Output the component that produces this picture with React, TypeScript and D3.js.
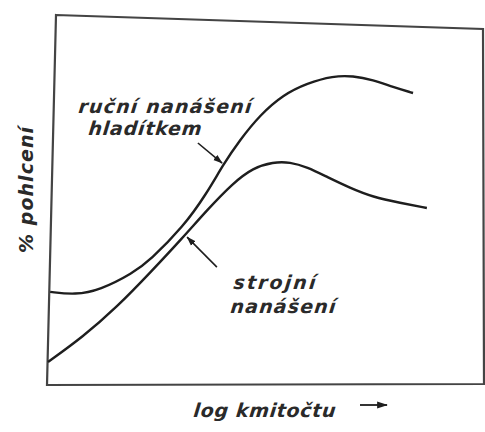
import * as React from 'react';
import * as d3 from 'd3';

// x: log of frequency (relative units), y: % absorption (relative units)
const handX = [0.5, 6.3, 12.0, 19.7, 23.6, 31.3, 36.8, 40.5, 44.4, 49.1, 54.4, 60.0, 66.0, 70.6, 75.2, 79.9, 84.5];
const handY = [25.5, 24.7, 26.0, 30.7, 34.2, 43.3, 52.6, 60.3, 67.1, 74.0, 79.5, 82.7, 84.7, 84.7, 83.6, 81.6, 80.0];

const machineX = [0, 8.1, 16.0, 23.6, 31.3, 36.8, 42.8, 47.5, 52.1, 56.0, 60.0, 64.6, 69.9, 75.2, 81.5, 87.7];
const machineY = [6.3, 13.2, 21.4, 30.7, 40.5, 47.9, 55.3, 59.5, 61.1, 61.1, 59.7, 57.0, 54.0, 51.5, 49.9, 48.5];

const handLabel = ['ruční nanášení', 'hladítkem'];
const machineLabel = ['strojní', 'nanášení'];
const yTitle = '% pohlcení';
const xTitle = 'log kmitočtu';

const W = 485;
const H = 432;
const plot = { left: 48, right: 480, top: 20, bottom: 385 };

const x = d3.scaleLinear().domain([0, 100]).range([plot.left, plot.right]);
const y = d3.scaleLinear().domain([0, 100]).range([plot.bottom, plot.top]);

const line = d3
  .line<[number, number]>()
  .x((d) => x(d[0]))
  .y((d) => y(d[1]))
  .curve(d3.curveBasis);

const ink = '#1e1e1e';
const font = '"DejaVu Sans", sans-serif';
const slant = 0.105; // extra skew on top of the oblique face

export default function App() {
  const hand = line(handX.map((v, i) => [v, handY[i]] as [number, number])) || '';
  const machine = line(machineX.map((v, i) => [v, machineY[i]] as [number, number])) || '';

  // the scanned frame is slightly out of square
  const frame = [
    [plot.left + 8, plot.top - 5],
    [plot.right + 3, plot.top + 9],
    [plot.right + 4, plot.bottom - 1],
    [plot.left - 1, plot.bottom],
  ];
  const framePath = 'M' + frame.map((p) => p.join(',')).join('L') + 'Z';

  const textStyle: React.CSSProperties = {
    fontFamily: font,
    fontStyle: 'oblique',
    fontWeight: 'bold',
    fontSize: 19,
    fill: '#2a2a2a',
  };

  return (
    <div style={{ position: 'absolute', left: 0, top: 0, background: '#fff' }}>
      <svg width={W} height={H} viewBox={`0 0 ${W} ${H}`}>
        <defs>
          <marker id="head" viewBox="0 0 12 10" refX="11" refY="5" markerWidth="6" markerHeight="5" orient="auto">
            <path d="M0,1 L12,5 L0,9 Z" fill={ink} />
          </marker>
        </defs>
        <rect width={W} height={H} fill="#fff" />
        <path d={framePath} fill="none" stroke="#444" strokeWidth={2.2} />

        <path d={hand} fill="none" stroke={ink} strokeWidth={2.4} />
        <path d={machine} fill="none" stroke={ink} strokeWidth={2.4} />

        {/* pointer arrows from labels to curves */}
        <line x1={x(34.7)} y1={y(66.3)} x2={x(40.3)} y2={y(60.8)} stroke={ink} strokeWidth={1.6} markerEnd="url(#head)" />
        <line x1={x(39.1)} y1={y(32.3)} x2={x(32.2)} y2={y(40.5)} stroke={ink} strokeWidth={1.6} markerEnd="url(#head)" />

        <g transform={`skewX(${-Math.atan(slant) * 180 / Math.PI})`}>
          <text x={78 + 113 * slant} y={113} textLength={173} lengthAdjust="spacing" style={textStyle}>
            {handLabel[0]}
          </text>
          <text x={88 + 135 * slant} y={135} textLength={113} lengthAdjust="spacing" style={textStyle}>
            {handLabel[1]}
          </text>
          <text x={233 + 289 * slant} y={289} textLength={82} lengthAdjust="spacing" style={textStyle}>
            {machineLabel[0]}
          </text>
          <text x={230 + 313 * slant} y={313} textLength={105} lengthAdjust="spacing" style={textStyle}>
            {machineLabel[1]}
          </text>
          <text x={193 + 417 * slant} y={417} textLength={142} lengthAdjust="spacing" style={textStyle}>
            {xTitle}
          </text>
        </g>

        <text
          transform="translate(33,253) rotate(-90)"
          textLength={126}
          lengthAdjust="spacing"
          style={textStyle}
        >
          {yTitle}
        </text>
        <line x1={360} y1={405} x2={387} y2={405} stroke={ink} strokeWidth={1.8} markerEnd="url(#head)" />
      </svg>
    </div>
  );
}
